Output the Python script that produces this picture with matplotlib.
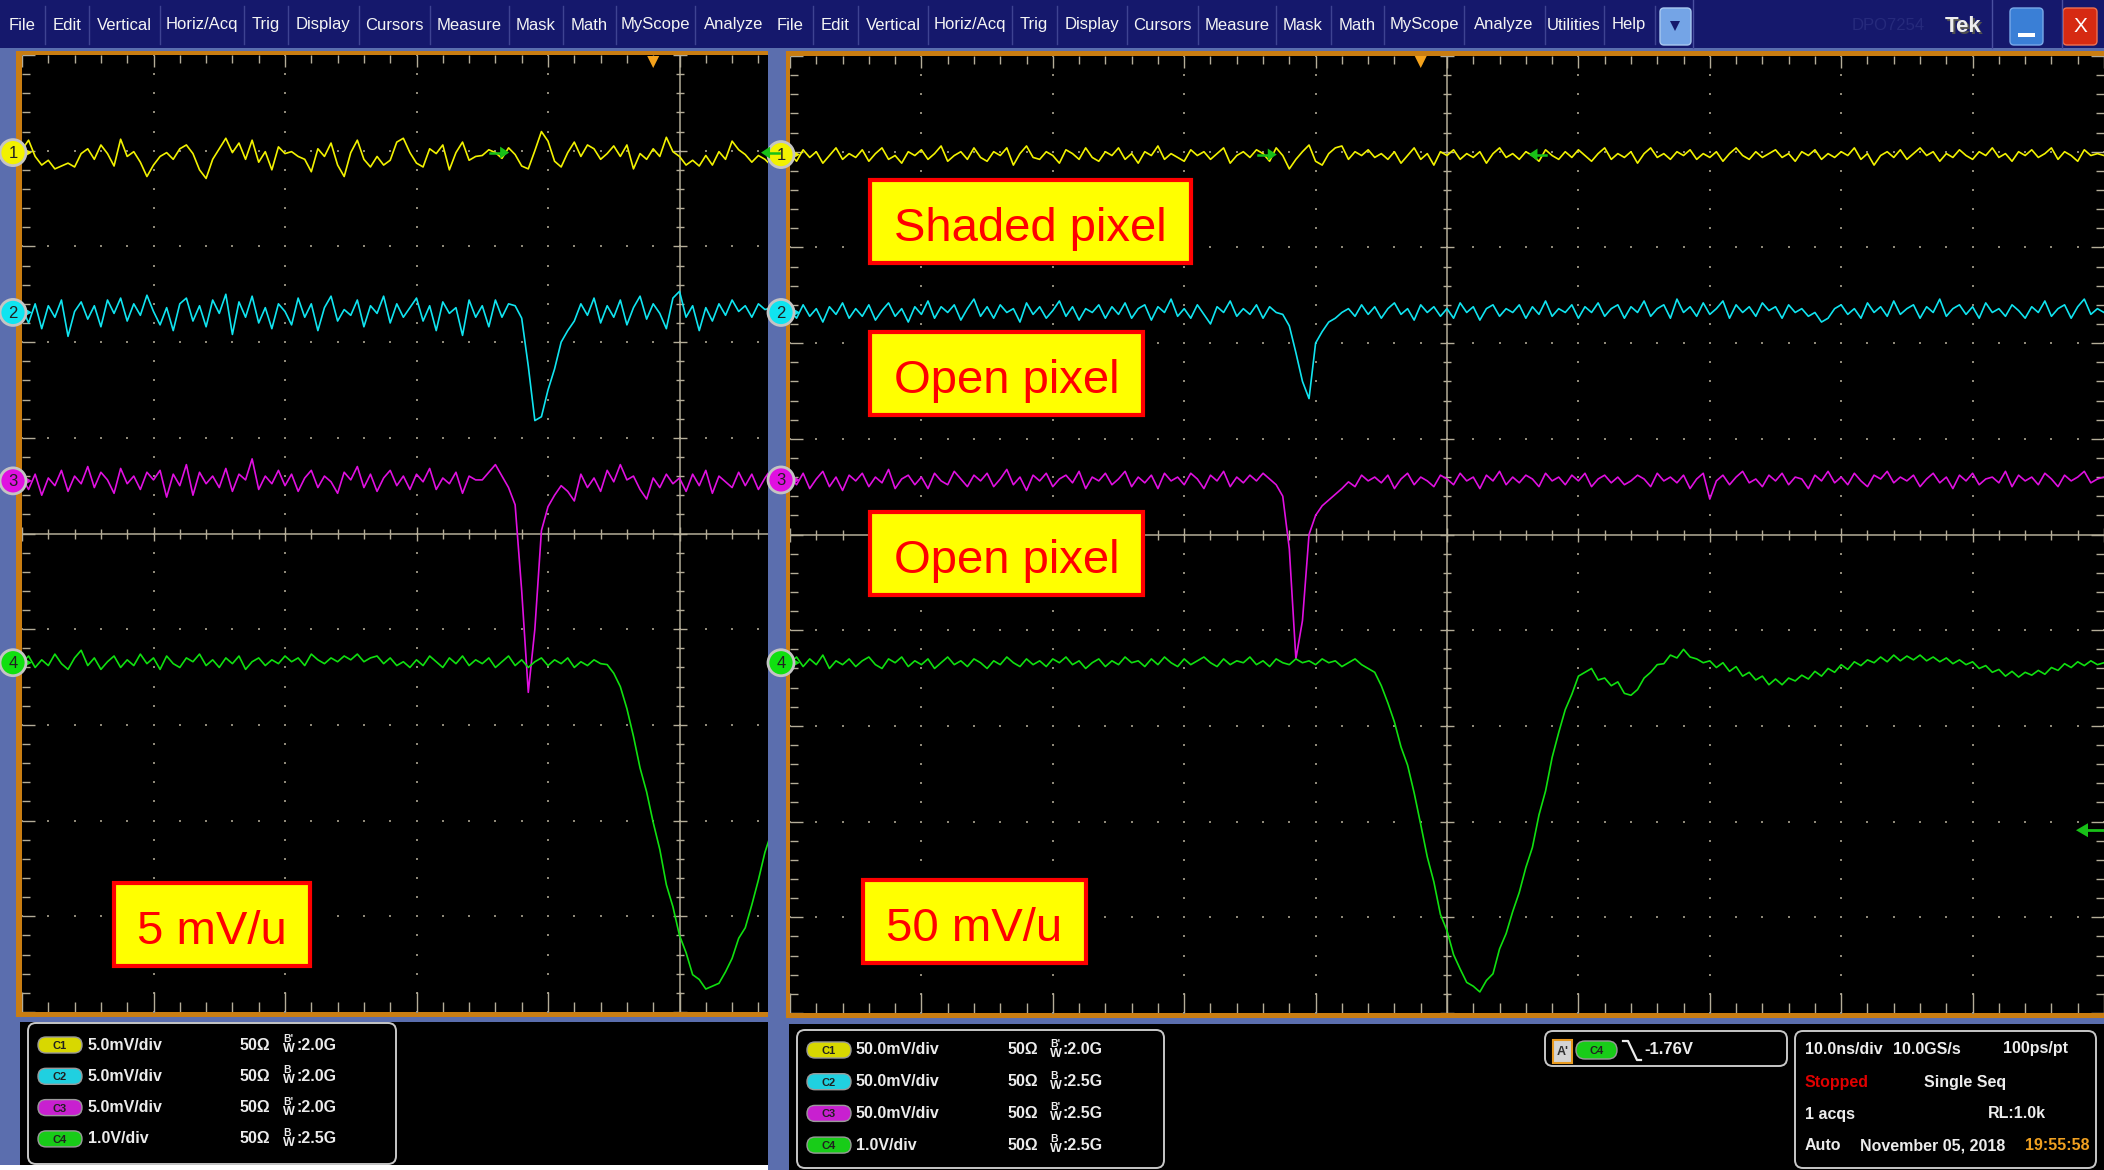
import numpy as np
import matplotlib
matplotlib.use("Agg")
import matplotlib.pyplot as plt
from matplotlib import font_manager
from matplotlib.patches import Rectangle, FancyBboxPatch, Circle, Polygon
from matplotlib.collections import LineCollection

W, H = 2104, 1170

# trace samples: one value every 0.05 horizontal division starting at -5 div,
# values in hundredths of a vertical division
STEP = 0.05

# 5 mV/div capture (screen cropped at +0.67 div)
left_ch1 = [401, 411, 394, 385, 390, 381, 384, 387, 383, 397,
            402, 391, 406, 397, 384, 412, 394, 399, 388, 373,
            385, 394, 398, 391, 402, 406, 397, 380, 371, 391,
            402, 413, 398, 408, 391, 411, 388, 399, 380, 404,
            397, 399, 394, 391, 378, 402, 394, 408, 385, 373,
            398, 411, 391, 383, 394, 385, 390, 409, 413, 398,
            387, 383, 402, 397, 406, 380, 398, 409, 390, 394,
            395, 401, 398, 392, 403, 396, 384, 381, 400, 420,
            410, 389, 383, 398, 409, 394, 406, 402, 391, 397,
            405, 394, 406, 381, 397, 391, 402, 394, 414, 399,
            394, 385, 390, 384, 395, 385, 399, 391, 410, 401,
            396, 388, 395, 391, 384]
left_ch2 = [236, 220, 240, 214, 238, 226, 244, 206, 232, 242,
            224, 238, 216, 244, 230, 246, 222, 240, 228, 249,
            232, 218, 236, 212, 240, 246, 222, 238, 216, 244,
            230, 250, 208, 242, 226, 248, 220, 236, 214, 240,
            232, 218, 246, 226, 240, 212, 236, 248, 222, 234,
            228, 244, 216, 238, 230, 248, 220, 240, 226, 236,
            246, 222, 238, 212, 242, 230, 236, 207, 244, 226,
            238, 216, 244, 226, 240, 238, 225, 175, 118, 122,
            150, 172, 200, 212, 222, 240, 228, 246, 220, 238,
            226, 244, 218, 236, 248, 224, 240, 230, 214, 246,
            253, 226, 238, 212, 236, 222, 240, 228, 244, 232,
            238, 226, 240, 234, 236]
left_ch3 = [58, 46, 62, 40, 58, 50, 66, 44, 60, 52,
            70, 48, 64, 56, 42, 68, 52, 60, 46, 64,
            56, 66, 38, 62, 50, 72, 40, 64, 52, 60,
            48, 68, 44, 62, 56, 78, 46, 60, 52, 66,
            50, 62, 44, 58, 66, 48, 60, 54, 42, 64,
            56, 70, 48, 62, 44, 58, 66, 50, 60, 46,
            62, 54, 68, 46, 58, 52, 64, 42, 60, 56,
            56, 64, 72, 60, 48, 30, -60, -166, -100, 3,
            28, 40, 50, 44, 34, 62, 48, 58, 44, 66,
            54, 72, 56, 60, 46, 36, 58, 48, 62, 52,
            58, 44, 62, 50, 66, 42, 60, 54, 48, 64,
            50, 62, 46, 58, 68]
left_ch4 = [-135, -128, -140, -132, -138, -126, -136, -142, -130, -122,
            -138, -130, -142, -134, -128, -140, -132, -138, -126, -136,
            -130, -142, -128, -136, -140, -130, -134, -126, -138, -132,
            -140, -130, -136, -128, -142, -134, -130, -138, -132, -136,
            -128, -134, -130, -138, -126, -132, -136, -130, -134, -128,
            -132, -126, -134, -130, -128, -136, -130, -138, -134, -140,
            -132, -138, -128, -134, -140, -130, -136, -128, -138, -132,
            -136, -130, -140, -134, -128, -138, -132, -140, -134, -130,
            -138, -132, -136, -130, -140, -134, -138, -132, -136, -137,
            -146, -160, -183, -212, -245, -270, -302, -330, -367, -390,
            -420, -438, -461, -466, -476, -473, -470, -458, -444, -423,
            -412, -388, -362, -333, -312]

# 50 mV/div capture, full ten divisions
right_ch1 = [398, 390, 402, 394, 400, 388, 396, 404, 392, 398,
             394, 402, 390, 398, 404, 392, 396, 388, 400, 396,
             402, 392, 398, 406, 390, 396, 400, 392, 404, 394,
             390, 400, 396, 404, 386, 398, 406, 394, 392, 400,
             396, 388, 402, 398, 392, 404, 394, 390, 400, 396,
             404, 392, 398, 388, 400, 396, 406, 392, 398, 394,
             390, 402, 396, 400, 392, 398, 404, 388, 396, 400,
             394, 402, 398, 390, 404, 396, 382, 392, 400, 407,
             390, 386, 398, 404, 406, 392, 400, 396, 402, 394,
             398, 392, 400, 388, 396, 404, 392, 398, 386, 400,
             396, 402, 392, 398, 394, 400, 388, 398, 404, 394,
             398, 392, 400, 396, 390, 402, 396, 392, 400, 394,
             402, 396, 390, 398, 404, 392, 398, 394, 400, 388,
             398, 404, 394, 398, 392, 400, 396, 402, 392, 398,
             394, 400, 390, 398, 404, 396, 392, 400, 394, 398,
             402, 394, 398, 390, 400, 396, 402, 392, 398, 394,
             400, 396, 404, 392, 398, 386, 396, 400, 394, 402,
             392, 398, 404, 396, 400, 390, 398, 394, 402, 396,
             392, 400, 396, 404, 394, 398, 390, 400, 396, 402,
             394, 398, 404, 392, 400, 396, 390, 402, 396, 398,
             396]
right_ch2 = [234, 226, 240, 228, 236, 222, 238, 230, 242, 226,
             236, 228, 240, 224, 234, 242, 228, 236, 222, 238,
             230, 244, 226, 238, 232, 240, 224, 236, 246, 228,
             238, 226, 240, 232, 236, 222, 242, 230, 238, 226,
             234, 244, 228, 238, 224, 236, 232, 240, 226, 238,
             230, 242, 226, 236, 240, 224, 238, 232, 246, 228,
             236, 226, 240, 230, 220, 238, 232, 244, 228, 236,
             230, 240, 226, 238, 232, 230, 218, 190, 160, 142,
             200, 212, 222, 226, 232, 236, 228, 240, 230, 238,
             226, 236, 242, 230, 236, 224, 240, 232, 238, 228,
             236, 226, 242, 232, 238, 224, 236, 240, 228, 236,
             232, 240, 226, 238, 230, 244, 228, 236, 232, 240,
             226, 238, 232, 242, 228, 236, 240, 226, 238, 232,
             244, 228, 236, 240, 226, 246, 232, 238, 228, 242,
             230, 236, 244, 226, 240, 232, 238, 228, 242, 234,
             238, 226, 240, 232, 236, 228, 232, 222, 226, 236,
             240, 230, 236, 226, 242, 232, 238, 228, 244, 230,
             236, 240, 226, 238, 232, 246, 228, 236, 240, 230,
             238, 226, 242, 232, 236, 228, 240, 234, 226, 238,
             232, 244, 228, 236, 240, 226, 238, 246, 230, 236,
             232]
right_ch3 = [60, 52, 64, 48, 58, 66, 50, 60, 46, 62,
             56, 64, 50, 60, 54, 68, 48, 58, 62, 52,
             60, 48, 64, 56, 52, 66, 58, 50, 62, 56,
             64, 50, 58, 68, 52, 60, 46, 62, 56, 64,
             50, 58, 62, 54, 66, 48, 60, 56, 64, 52,
             58, 66, 50, 60, 54, 62, 48, 64, 56, 60,
             52, 64, 58, 48, 62, 56, 66, 50, 60, 54,
             62, 56, 64, 58, 52, 40, -15, -130, -90, 0,
             20, 30, 36, 42, 48, 55, 50, 62, 56, 60,
             54, 62, 48, 58, 64, 52, 60, 56, 50, 62,
             58, 52, 64, 56, 60, 48, 62, 56, 66, 52,
             60, 54, 62, 58, 50, 64, 56, 60, 52, 62,
             56, 64, 50, 58, 62, 54, 60, 52, 56, 62,
             58, 50, 64, 56, 60, 54, 62, 48, 58, 64,
             37, 56, 62, 52, 60, 66, 54, 58, 50, 62,
             56, 64, 52, 60, 58, 48, 62, 56, 66, 54,
             60, 52, 64, 56, 50, 62, 58, 66, 54, 60,
             56, 62, 50, 58, 64, 54, 60, 48, 62, 56,
             64, 52, 58, 60, 54, 66, 50, 62, 56, 60,
             52, 64, 58, 50, 62, 56, 60, 66, 54, 58,
             60]
right_ch4 = [-134, -128, -138, -130, -136, -126, -140, -132, -136, -130,
             -138, -132, -128, -136, -140, -130, -134, -128, -138, -132,
             -136, -130, -140, -134, -128, -136, -132, -138, -130, -134,
             -140, -132, -136, -128, -134, -138, -130, -136, -132, -138,
             -130, -134, -128, -136, -132, -140, -134, -130, -138, -132,
             -136, -128, -134, -132, -138, -130, -136, -128, -134, -138,
             -130, -136, -132, -128, -134, -138, -130, -136, -132, -134,
             -128, -136, -132, -138, -130, -134, -136, -130, -134, -132,
             -136, -130, -134, -132, -138, -134, -130, -136, -140, -144,
             -158, -176, -196, -222, -241, -270, -303, -337, -363, -397,
             -414, -439, -454, -468, -472, -478, -466, -459, -433, -417,
             -394, -374, -348, -327, -293, -268, -233, -207, -183, -167,
             -148, -144, -140, -152, -150, -158, -154, -166, -168, -162,
             -150, -144, -136, -135, -126, -129, -120, -128, -130, -134,
             -132, -139, -134, -143, -138, -148, -144, -152, -148, -157,
             -151, -157, -150, -153, -147, -151, -143, -148, -140, -144,
             -136, -141, -133, -137, -131, -134, -128, -133, -126, -132,
             -127, -131, -126, -132, -128, -133, -129, -135, -131, -136,
             -133, -140, -137, -144, -141, -148, -143, -149, -144, -147,
             -142, -146, -139, -142, -135, -139, -133, -137, -132, -136,
             -134]

# channel ground markers (divisions) and trigger settings
left_offsets = [3.98, 2.31, 0.55, -1.35]
right_offsets = [3.97, 2.32, 0.57, -1.34]
trigger_time = -0.2
trigger_level = -3.09
c1_marks = (-1.44, 0.62)

menu_left = ["File", "Edit", "Vertical", "Horiz/Acq", "Trig", "Display",
             "Cursors", "Measure", "Mask", "Math", "MyScope", "Analyze"]
menu_right = menu_left + ["Utilities", "Help"]

left_settings = [("C1", "5.0mV/div", "2.0G", True),
                 ("C2", "5.0mV/div", "2.0G", False),
                 ("C3", "5.0mV/div", "2.0G", True),
                 ("C4", "1.0V/div", "2.5G", False)]
right_settings = [("C1", "50.0mV/div", "2.0G", True),
                  ("C2", "50.0mV/div", "2.5G", False),
                  ("C3", "50.0mV/div", "2.5G", True),
                  ("C4", "1.0V/div", "2.5G", False)]

notes_left = ["5 mV/u"]
notes_right = ["Shaded pixel", "Open pixel", "Open pixel", "50 mV/u"]

TRACE = ["#f2f200", "#10e4f0", "#e010e0", "#10e010"]
PILL = {"C1": "#d8d800", "C2": "#20d0e0", "C3": "#c820d0", "C4": "#18cc18"}
NAVY = "#15186c"
STEEL = "#5b6eae"
ORANGE = "#c97d12"
CROSS = "#b4ad98"
DOT = "#8e8878"

names = {f.name for f in font_manager.fontManager.ttflist}
if "Liberation Sans Narrow" in names:
    NARROW = ["Liberation Sans Narrow", "DejaVu Sans"]
else:
    NARROW = ["Liberation Sans", "DejaVu Sans"]
SANS = ["Liberation Sans", "DejaVu Sans"]

fig = plt.figure(figsize=(W / 100, H / 100), dpi=100, facecolor=STEEL)


def pixel_axes(z):
    ax = fig.add_axes([0, 0, 1, 1], zorder=z)
    ax.set_xlim(0, W)
    ax.set_ylim(H, 0)
    ax.axis("off")
    return ax


bg = pixel_axes(0)

# menu bar
bg.add_patch(Rectangle((0, 0), W, 48, fc=NAVY, ec="none"))
menu_pos = [22, 67, 124, 202, 266, 323, 394, 469, 536, 589, 655, 734,
            790, 835, 893, 970, 1034, 1092, 1162, 1237, 1303, 1357, 1424, 1504, 1574, 1629]
for name, x in zip(menu_left + menu_right, menu_pos):
    bg.text(x, 25, name, color="#f4f4f4", fontsize=12, family=NARROW,
            ha="center", va="center")
for x in [45, 89, 160, 244, 288, 359, 430, 509, 563, 616, 695,
          813, 858, 928, 1012, 1057, 1127, 1198, 1276, 1331, 1384, 1464, 1545, 1604, 1655]:
    bg.plot([x, x], [6, 44], color="#3e4392", lw=1)
for x in [1693, 1992, 2062]:
    bg.plot([x, x], [0, 48], color="#4a50a0", lw=1)
bg.add_patch(FancyBboxPatch((1660, 8), 31, 37, boxstyle="round,pad=0,rounding_size=4",
                            fc="#74a4e6", ec="#a8c8f0", lw=1))
bg.add_patch(Polygon([(1670, 21), (1680, 21), (1675, 31)], closed=True, fc=NAVY, ec="none"))
bg.text(1888, 26, "DPO7254", color="#262a7c", fontsize=12, family=SANS, ha="center", va="center")
bg.text(1965, 28, "Tek", color="#505050", fontsize=16, family=SANS, weight="bold",
        ha="center", va="center")
bg.text(1963, 26, "Tek", color="#eeeeee", fontsize=16, family=SANS, weight="bold",
        ha="center", va="center")
bg.add_patch(FancyBboxPatch((2010, 8), 33, 37, boxstyle="round,pad=0,rounding_size=4",
                            fc="#3a7fd6", ec="#78a8e8", lw=1))
bg.add_patch(Rectangle((2018, 33), 17, 4, fc="white", ec="none"))
bg.add_patch(FancyBboxPatch((2063, 8), 34, 37, boxstyle="round,pad=0,rounding_size=4",
                            fc="#d62a12", ec="#f07050", lw=1))
bg.text(2080, 27, "X", color="white", fontsize=15, family=SANS, ha="center", va="center")

# screen frames
bg.add_patch(Rectangle((16, 51), 752, 966, fc=ORANGE, ec="none"))
bg.add_patch(Rectangle((786, 51), W - 786, 967, fc=ORANGE, ec="none"))

# readout area
bg.add_patch(Rectangle((20, 1022), 748, 143, fc="black", ec="none"))
bg.add_patch(Rectangle((0, 1165), 768, 5, fc="white", ec="none"))
bg.add_patch(Rectangle((789, 1024), W - 789, H - 1024, fc="black", ec="none"))


def readout_box(x0, y0, x1, y1):
    bg.add_patch(FancyBboxPatch((x0, y0), x1 - x0, y1 - y0,
                                boxstyle="round,pad=0,rounding_size=8",
                                fc="black", ec="#c8c8c8", lw=1.4))


def pill(x, y, label, w=44, h=16):
    bg.add_patch(FancyBboxPatch((x, y - h / 2), w, h,
                                boxstyle="round,pad=0,rounding_size=%g" % (h / 2),
                                fc=PILL[label], ec="#9a9a9a", lw=1))
    bg.text(x + w / 2, y + 1, label, color="#202020", fontsize=8, family=NARROW,
            weight="bold", ha="center", va="center")


def settings_rows(rows, y0, dy, pill_x, volt_x, ohm_x, bw_x):
    for k, (ch, volts, bw, prime) in enumerate(rows):
        y = y0 + k * dy
        pill(pill_x, y, ch)
        txt = dict(color="#ececec", family=NARROW, weight="bold", va="center")
        bg.text(volt_x, y, volts, fontsize=11.5, **txt)
        bg.text(ohm_x, y, "50Ω", fontsize=11.5, **txt)
        bg.text(bw_x, y - 6, "B'" if prime else "B", fontsize=7.5, **txt)
        bg.text(bw_x, y + 4, "W", fontsize=9, **txt)
        bg.text(bw_x + 13, y, ":" + bw, fontsize=11.5, **txt)


readout_box(28, 1023, 396, 1164)
settings_rows(left_settings, 1045, 31.3, 38, 88, 240, 283)
readout_box(797, 1030, 1164, 1168)
settings_rows(right_settings, 1050, 31.7, 807, 856, 1008, 1050)

# trigger readout
readout_box(1545, 1031, 1787, 1066)
bg.add_patch(Rectangle((1553, 1040), 19, 23, fc="#d4d4d4", ec="#e89a20", lw=1.5))
bg.text(1562.5, 1052, "A'", color="#303030", fontsize=9, family=NARROW, weight="bold",
        ha="center", va="center")
pill(1576, 1050, "C4", w=41, h=18)
bg.plot([1623, 1628, 1637, 1641], [1041, 1041, 1060, 1060], color="#ececec", lw=1.6)
bg.text(1644, 1049, "-1.76V", color="#ececec", fontsize=12, family=NARROW, weight="bold",
        va="center")

# acquisition status
readout_box(1795, 1031, 2096, 1168)
st = dict(fontsize=11.5, family=NARROW, weight="bold", va="center")
bg.text(1805, 1049, "10.0ns/div", color="#ececec", **st)
bg.text(1893, 1049, "10.0GS/s", color="#ececec", **st)
bg.text(2003, 1049, "100ps/pt", color="#ececec", **st)
bg.text(1805, 1082, "Stopped", color="#e00000", **st)
bg.text(1924, 1082, "Single Seq", color="#ececec", **st)
bg.text(1805, 1114, "1 acqs", color="#ececec", **st)
bg.text(1988, 1114, "RL:1.0k", color="#ececec", **st)
bg.text(1805, 1146, "Auto", color="#ececec", **st)
bg.text(1860, 1146, "November 05, 2018", color="#ececec", **st)
bg.text(2025, 1146, "19:55:58", color="#f0a020", **st)


def scope_axes(x0, y0, x1, y1, tmax):
    ax = fig.add_axes([x0 / W, 1 - y1 / H, (x1 - x0) / W, (y1 - y0) / H], zorder=1)
    ax.set_facecolor("black")
    ax.set_xlim(-5, tmax)
    ax.set_ylim(-5, 5)
    ax.set_xticks([])
    ax.set_yticks([])
    for s in ax.spines.values():
        s.set_visible(False)
    return ax


def graticule(ax, tmax, ppx, ppy):
    minor = np.round(np.arange(-5, 5.0001, 0.2), 3)
    minor_x = minor[minor <= tmax]
    dx, dy = [], []
    for g in range(-4, 5):
        if g == 0:
            continue
        if g < tmax:
            dx += [g] * len(minor)
            dy += list(minor)
        dx += list(minor_x)
        dy += [g] * len(minor_x)
    ax.scatter(dx, dy, s=2.5, c=DOT, marker="s", linewidths=0, zorder=1)
    ax.axhline(0, color=CROSS, lw=1.1, zorder=1)
    ax.axvline(0, color=CROSS, lw=1.1, zorder=1)
    segs = []
    for x in minor_x:
        major = abs(x - round(x)) < 1e-6
        h = (7 if major else 5) / ppy
        segs.append([(x, -h), (x, h)])
        segs.append([(x, 5), (x, 5 - (12 if major else 8) / ppy)])
        segs.append([(x, -5), (x, -5 + (20 if major else 10) / ppy)])
    for y in minor:
        major = abs(y - round(y)) < 1e-6
        w = (7 if major else 4) / ppx
        segs.append([(-w, y), (w, y)])
        segs.append([(-5, y), (-5 + (13 if major else 8) / ppx, y)])
        if tmax >= 5:
            segs.append([(5, y), (5 - (13 if major else 8) / ppx, y)])
    ax.add_collection(LineCollection(segs, colors=CROSS, linewidths=1.0, zorder=1))


def traces(ax, series):
    for vals, col in zip(series, TRACE):
        t = -5 + STEP * np.arange(len(vals))
        ax.plot(t, np.array(vals) / 100.0, color=col, lw=1.2, zorder=3)


left_tmax = -5 + (768 - 22) / 131.5
ax_l = scope_axes(22, 55, 768, 1012, left_tmax)
graticule(ax_l, left_tmax, 131.5, 95.7)
traces(ax_l, [left_ch1, left_ch2, left_ch3, left_ch4])

ax_r = scope_axes(790, 56, W, 1013, 5)
graticule(ax_r, 5, 131.4, 95.7)
traces(ax_r, [right_ch1, right_ch2, right_ch3, right_ch4])

ov = pixel_axes(3)


def to_px(ax, x, y):
    px, py = ax.transData.transform((x, y))
    return px, H - py


def channel_markers(ax, offsets):
    for k, (off, col) in enumerate(zip(offsets, TRACE)):
        ex, ey = to_px(ax, -5, off)
        cx = ex - 9
        ov.add_patch(Polygon([(cx + 10, ey - 5), (cx + 19, ey), (cx + 10, ey + 5)],
                             closed=True, fc=col, ec="none"))
        ov.add_patch(Circle((cx, ey), 13, fc=col, ec="#c4c4c4", lw=2))
        ov.text(cx, ey + 1, str(k + 1), color="#202020", fontsize=12, family=SANS,
                ha="center", va="center")


def scope_marks(ax, offsets):
    tx, _ = to_px(ax, trigger_time, 5)
    ov.add_patch(Polygon([(tx - 6, 56), (tx + 6, 56), (tx, 68)], closed=True,
                         fc="#f4a21c", ec="none"))
    ax0, ay = to_px(ax, c1_marks[0], offsets[0])
    ov.plot([ax0, ax0 + 12], [ay, ay], color="#18c018", lw=1.8)
    ov.add_patch(Polygon([(ax0 + 10, ay - 6), (ax0 + 19, ay), (ax0 + 10, ay + 6)],
                         closed=True, fc="#18c018", ec="none"))
    bx, by = to_px(ax, c1_marks[1], offsets[0])
    ov.plot([bx + 6, bx + 18], [by, by], color="#18c018", lw=1.8)
    ov.add_patch(Polygon([(bx + 9, by - 6), (bx, by), (bx + 9, by + 6)],
                         closed=True, fc="#18c018", ec="none"))


channel_markers(ax_l, left_offsets)
channel_markers(ax_r, right_offsets)
scope_marks(ax_l, left_offsets)
scope_marks(ax_r, right_offsets)

# trigger level arrow on the right screen edge
_, ly = to_px(ax_r, 5, trigger_level)
ov.add_patch(Polygon([(2076, ly), (2088, ly - 7), (2088, ly + 7)], closed=True,
                     fc="#18c018", ec="none"))
ov.plot([2088, W], [ly, ly], color="#18c018", lw=2)


def note(text, x0, y0, x1, y1):
    ov.add_patch(Rectangle((x0, y0), x1 - x0, y1 - y0, fc="#ffff00", ec="#ff0000", lw=3))
    ov.text((x0 + x1) / 2, y0 + 61, text, color="#ff0000", fontsize=34, family=SANS,
            ha="center", va="baseline")


note(notes_left[0], 114, 883, 310, 966)
for text, box in zip(notes_right, [(870, 180, 1191, 263), (870, 332, 1143, 415),
                                   (870, 512, 1143, 595), (863, 880, 1086, 963)]):
    note(text, *box)

fig.savefig("out.png", dpi=100, facecolor=fig.get_facecolor())
